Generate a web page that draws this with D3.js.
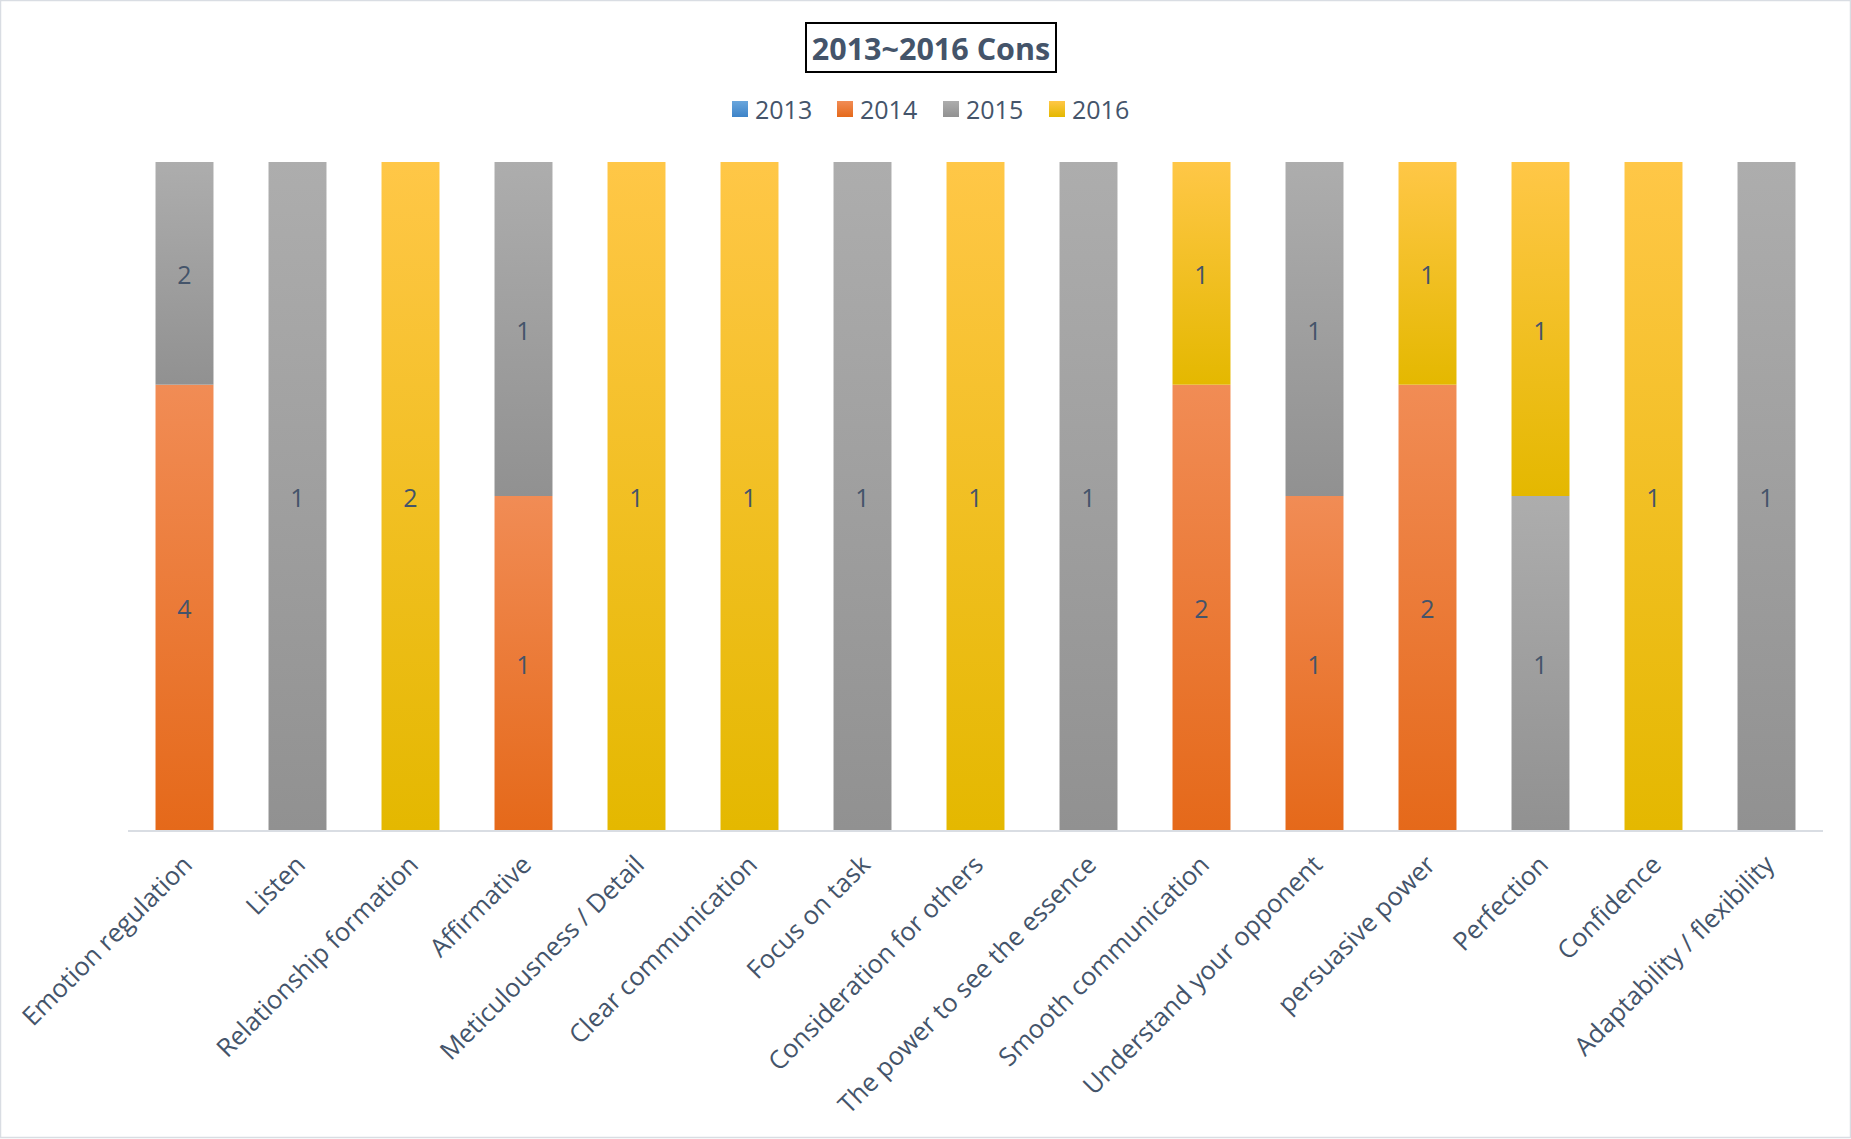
<!DOCTYPE html>
<html>
<head>
<meta charset="utf-8">
<script src="https://cdn.jsdelivr.net/npm/d3@7.9.0/dist/d3.min.js"></script>
<style>
  body { margin: 0; background: #fff; }
  svg { display: block; font-family: "Open Sans", sans-serif; }
</style>
</head>
<body>
<svg id="chart" width="1851" height="1139"></svg>
<script>
const categories = ['Emotion regulation', 'Listen', 'Relationship formation', 'Affirmative',
  'Meticulousness / Detail', 'Clear communication', 'Focus on task', 'Consideration for others',
  'The power to see the essence', 'Smooth communication', 'Understand your opponent',
  'persuasive power', 'Perfection', 'Confidence', 'Adaptability / flexibility'];
const years = ['2013', '2014', '2015', '2016'];
const v2013 = [0, 0, 0, 0, 0, 0, 0, 0, 0, 0, 0, 0, 0, 0, 0];
const v2014 = [4, 0, 0, 1, 0, 0, 0, 0, 0, 2, 1, 2, 0, 0, 0];
const v2015 = [2, 1, 0, 1, 0, 0, 1, 0, 1, 0, 1, 0, 1, 0, 1];
const v2016 = [0, 0, 2, 0, 1, 1, 0, 1, 0, 1, 0, 1, 1, 1, 0];

const textColor = '#44546a';
const gradStops = {
  '2013': ['#6aa6dc', '#3d83c8'],
  '2014': ['#f18c55', '#e5691a'],
  '2015': ['#adadad', '#919191'],
  '2016': ['#ffc747', '#e4b800']
};

const rows = categories.map((c, i) => ({
  cat: c, '2013': v2013[i], '2014': v2014[i], '2015': v2015[i], '2016': v2016[i]
}));

const svg = d3.select('#chart');

// outer border
svg.append('rect').attr('x', 0.5).attr('y', 0.5).attr('width', 1850).attr('height', 1137)
  .attr('fill', 'none').attr('stroke', '#d9dde3').attr('stroke-width', 1.5);

const defs = svg.append('defs');
years.forEach(y => {
  const g = defs.append('linearGradient').attr('id', 'g' + y)
    .attr('x1', 0).attr('y1', 0).attr('x2', 0).attr('y2', 1);
  g.append('stop').attr('offset', '0%').attr('stop-color', gradStops[y][0]);
  g.append('stop').attr('offset', '100%').attr('stop-color', gradStops[y][1]);
});

const x = d3.scaleBand().domain(categories).range([128, 1823]).paddingInner(0.487).paddingOuter(0.2435);
const y = d3.scaleLinear().domain([0, 1]).range([830, 162]);

const series = d3.stack().keys(years).offset(d3.stackOffsetExpand)(rows);

const layers = svg.append('g').selectAll('g').data(series).join('g')
  .attr('fill', d => `url(#g${d.key})`);

layers.selectAll('rect').data(d => d.filter(s => s[1] - s[0] > 0)).join('rect')
  .attr('x', d => x(d.data.cat))
  .attr('width', x.bandwidth())
  .attr('y', d => y(d[1]))
  .attr('height', d => y(d[0]) - y(d[1]));

// data labels
series.forEach(s => {
  svg.append('g').selectAll('text').data(s.filter(d => d[1] - d[0] > 0)).join('text')
    .attr('x', d => x(d.data.cat) + x.bandwidth() / 2)
    .attr('y', d => (y(d[0]) + y(d[1])) / 2 + 2)
    .attr('dy', '0.35em')
    .attr('text-anchor', 'middle')
    .attr('font-size', 25)
    .attr('fill', textColor)
    .text(d => d.data[s.key]);
});

// x axis line
svg.append('line').attr('x1', 128).attr('x2', 1823).attr('y1', 831).attr('y2', 831)
  .attr('stroke', '#d9dde3').attr('stroke-width', 2);

// category labels
svg.append('g').selectAll('text').data(categories).join('text')
  .attr('transform', d => `translate(${x(d) + x.bandwidth() / 2 + 3},${860}) rotate(-45)`)
  .attr('text-anchor', 'end')
  .attr('dy', '0.35em')
  .attr('font-size', 25.5)
  .attr('fill', textColor)
  .text(d => d);

// title
svg.append('rect').attr('x', 806).attr('y', 23).attr('width', 250).attr('height', 49)
  .attr('fill', 'none').attr('stroke', '#000').attr('stroke-width', 2);
svg.append('text').attr('x', 931).attr('y', 60)
  .attr('text-anchor', 'middle').attr('font-size', 30.5).attr('font-weight', 'bold')
  .attr('fill', textColor).text('2013~2016 Cons');

// legend
const legendX = [732, 837, 943, 1049];
const legend = svg.append('g').selectAll('g').data(years).join('g')
  .attr('transform', (d, i) => `translate(${legendX[i]},101)`);
legend.append('rect').attr('width', 16).attr('height', 16).attr('fill', d => `url(#g${d})`);
legend.append('text').attr('x', 23).attr('y', 18).attr('font-size', 25)
  .attr('fill', textColor).text(d => d);
</script>
</body>
</html>
